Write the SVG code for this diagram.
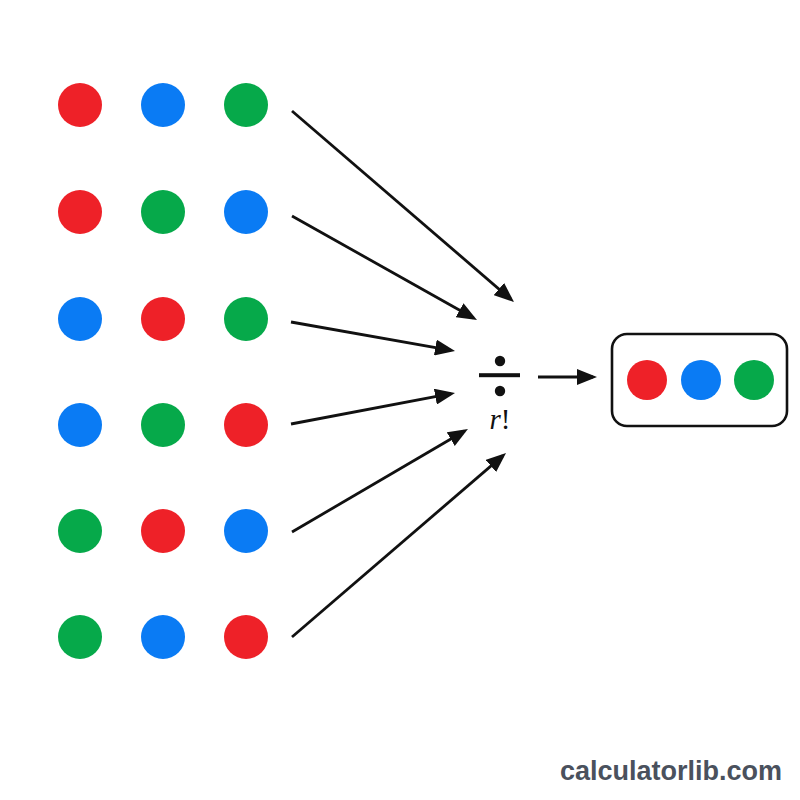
<svg xmlns="http://www.w3.org/2000/svg" width="800" height="800" viewBox="0 0 800 800">
<style>
.r{fill:#ee2128}.b{fill:#0a7bf4}.g{fill:#06a94a}
.c{stroke:#111;stroke-width:2.8;fill:none}
</style>
<defs>
<marker id="ah" markerUnits="userSpaceOnUse" markerWidth="20" markerHeight="16" refX="16" refY="8" orient="auto">
<path d="M0,0 L20,8 L0,16 Z" fill="#111"/>
</marker>
</defs>
<rect width="800" height="800" fill="#fff"/>
<g id="row1"><circle class="r" cx="80" cy="105" r="22"/><circle class="b" cx="163" cy="105" r="22"/><circle class="g" cx="246" cy="105" r="22"/></g>
<g id="row2"><circle class="r" cx="80" cy="212" r="22"/><circle class="g" cx="163" cy="212" r="22"/><circle class="b" cx="246" cy="212" r="22"/></g>
<g id="row3"><circle class="b" cx="80" cy="319" r="22"/><circle class="r" cx="163" cy="319" r="22"/><circle class="g" cx="246" cy="319" r="22"/></g>
<g id="row4"><circle class="b" cx="80" cy="425" r="22"/><circle class="g" cx="163" cy="425" r="22"/><circle class="r" cx="246" cy="425" r="22"/></g>
<g id="row5"><circle class="g" cx="80" cy="531" r="22"/><circle class="r" cx="163" cy="531" r="22"/><circle class="b" cx="246" cy="531" r="22"/></g>
<g id="row6"><circle class="g" cx="80" cy="637" r="22"/><circle class="b" cx="163" cy="637" r="22"/><circle class="r" cx="246" cy="637" r="22"/></g>
<g id="divide">
<circle cx="500" cy="361" r="5.2" fill="#111"/>
<rect x="479" y="373.2" width="41" height="4" fill="#111"/>
<circle cx="500" cy="391" r="5.2" fill="#111"/>
<text x="500" y="429" text-anchor="middle" font-family="'Liberation Serif', serif" font-size="29" fill="#111"><tspan font-style="italic">r</tspan>!</text>
</g>
<g id="result">
<rect x="612" y="334" width="175" height="92" rx="15" fill="#fff" stroke="#111" stroke-width="2.6"/>
<circle class="r" cx="647" cy="380" r="20"/>
<circle class="b" cx="701" cy="380" r="20"/>
<circle class="g" cx="754" cy="380" r="20"/>
</g>
<g id="connectors">
<line class="c" x1="292" y1="111" x2="511" y2="299.4" marker-end="url(#ah)"/>
<line class="c" x1="292" y1="216" x2="473.5" y2="318" marker-end="url(#ah)"/>
<line class="c" x1="291" y1="322" x2="451.1" y2="350.3" marker-end="url(#ah)"/>
<line class="c" x1="291" y1="424" x2="451.1" y2="393.7" marker-end="url(#ah)"/>
<line class="c" x1="292" y1="532" x2="464.5" y2="431" marker-end="url(#ah)"/>
<line class="c" x1="292" y1="637" x2="503" y2="455.6" marker-end="url(#ah)"/>
<line class="c" x1="538" y1="377" x2="593" y2="377" marker-end="url(#ah)"/>
</g>
<text x="782" y="780" text-anchor="end" font-family="'Liberation Sans', Arial, sans-serif" font-weight="bold" font-size="27" fill="#4a515d">calculatorlib.com</text>
</svg>
